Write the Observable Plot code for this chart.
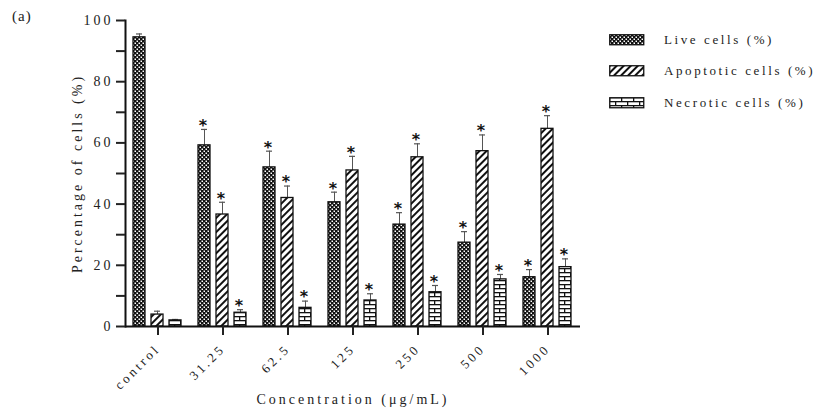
<!DOCTYPE html>
<html><head><meta charset="utf-8">
<script src="https://cdn.jsdelivr.net/npm/d3@7"></script>
<script src="https://cdn.jsdelivr.net/npm/@observablehq/plot@0.6"></script>
<style>
body{margin:0;background:#fff;}
#wrap{position:relative;width:833px;height:409px;font-family:"Liberation Serif",serif;color:#222;}
#tag{position:absolute;left:12px;top:8px;font-size:15px;letter-spacing:1px;}
#legend{position:absolute;left:609px;top:24px;}
.li{display:flex;align-items:center;height:31.5px;font-size:13px;letter-spacing:2.6px;}
.li svg{margin-right:19px;}
</style></head><body>
<svg width="0" height="0" style="position:absolute">
<defs>
<pattern id="p-live" width="4" height="4" patternUnits="userSpaceOnUse">
<rect width="4" height="4" fill="#111"/>
<rect x="0.5" y="0.5" width="1.5" height="1.5" fill="#fff"/>
<rect x="2.5" y="2.5" width="1.5" height="1.5" fill="#fff"/>
</pattern>
<pattern id="p-apo" width="5" height="5" patternUnits="userSpaceOnUse" patternTransform="rotate(45)">
<rect width="5" height="5" fill="#fff"/>
<rect x="0" y="0" width="2" height="5" fill="#111"/>
</pattern>
<pattern id="p-nec" width="12" height="8" patternUnits="userSpaceOnUse">
<rect width="12" height="8" fill="#fff"/>
<rect x="0" y="0" width="12" height="1.3" fill="#111"/>
<rect x="0" y="4" width="12" height="1.3" fill="#111"/>
<rect x="0" y="0" width="1.3" height="4" fill="#111"/>
<rect x="6" y="4" width="1.3" height="4" fill="#111"/>
</pattern>
</defs></svg>
<div id="wrap"><div id="tag">(a)</div><div id="legend"></div></div>
<script>
const categories = ["control","31.25","62.5","125","250","500","1000"];
const seriesNames = ["Live cells (%)","Apoptotic cells (%)","Necrotic cells (%)"];
const live      = [94.5, 59.2, 52.0, 40.6, 33.3, 27.4, 16.1];
const liveErr   = [1.1, 5.2, 5.3, 3.3, 3.9, 3.6, 2.5];
const apoptotic = [3.9, 36.6, 42.0, 51.0, 55.3, 57.3, 64.6];
const apoErr    = [1.1, 4.0, 3.9, 4.6, 4.4, 5.3, 4.3];
const necrotic  = [2.0, 4.5, 6.1, 8.5, 11.2, 15.4, 19.4];
const necErr    = [0.3, 1.0, 2.2, 2.2, 2.2, 1.6, 2.7];
const significant = [false, true, true, true, true, true, true];
const yTicks = [0, 20, 40, 60, 80, 100];
const yMinorTicks = [10, 30, 50, 70, 90];
const patterns = ["url(#p-live)","url(#p-apo)","url(#p-nec)"];

const valuesBySeries = [live, apoptotic, necrotic];
const errBySeries = [liveErr, apoErr, necErr];
const rows = [];
categories.forEach((c, i) => {
  seriesNames.forEach((s, k) => {
    rows.push({conc: c, series: s, value: valuesBySeries[k][i], top: valuesBySeries[k][i] + errBySeries[k][i], sig: significant[i]});
  });
});

const barMarks = seriesNames.map((s, k) => Plot.barY(rows.filter(d => d.series === s), {
  fx: "conc", x: "series", y: "value", fill: patterns[k], stroke: "#111", strokeWidth: 1.3
}));

const chart = Plot.plot({
  width: 833, height: 409,
  marginLeft: 125, marginRight: 253, marginTop: 20, marginBottom: 83,
  style: {fontFamily: "Liberation Serif, serif", fontSize: "13px", color: "#222", letterSpacing: "3px", background: "transparent"},
  fx: {domain: categories, padding: 0},
  x: {domain: seriesNames, paddingInner: 0.333, paddingOuter: 0.472, axis: null},
  y: {domain: [0, 100]},
  marks: [
    Plot.ruleX(rows, {fx: "conc", x: "series", y1: "value", y2: "top", stroke: "#555", strokeWidth: 1}),
    Plot.tickY(rows, {fx: "conc", x: "series", y: "top", stroke: "#555", strokeWidth: 1.2, insetLeft: 3, insetRight: 3}),
    ...barMarks,
    Plot.text(rows.filter(d => d.sig), {fx: "conc", x: "series", y: "top", text: () => "*", lineAnchor: "top", dy: -10, fontSize: 16, fontWeight: "bold", fill: "#111", fontFamily: "DejaVu Sans"}),
    Plot.ruleY([0], {stroke: "#111", strokeWidth: 2}),
    Plot.frame({anchor: "left", facetAnchor: "left", stroke: "#111", strokeWidth: 2}),
    Plot.axisY({ticks: yTicks, tickSize: 9, tickPadding: 3, strokeWidth: 2, fontSize: 14, label: "Percentage of cells (%)", labelAnchor: "center", labelArrow: "none", labelOffset: 53}),
    Plot.axisY({ticks: yMinorTicks, tickSize: 9, strokeWidth: 2, tickFormat: () => "", label: null}),
    Plot.axisFx({anchor: "bottom", tickSize: 9, strokeWidth: 2, tickRotate: -45, tickPadding: 11, letterSpacing: "2px", label: null}),
    Plot.axisFx({anchor: "bottom", tickSize: 0, tickFormat: () => "", label: "Concentration (μg/mL)", labelAnchor: "center", labelArrow: "none", labelOffset: 77, fontSize: 14, letterSpacing: "3.4px"})
  ]
});
document.getElementById("wrap").appendChild(chart);

const legend = document.getElementById("legend");
seriesNames.forEach((s, k) => {
  const row = document.createElement("div");
  row.className = "li";
  row.innerHTML = `<svg width="36" height="12"><rect x="0.75" y="0.75" width="34" height="10" fill="${patterns[k]}" stroke="#111" stroke-width="1.3"/></svg><span>${s}</span>`;
  legend.appendChild(row);
});
</script>
</body></html>
